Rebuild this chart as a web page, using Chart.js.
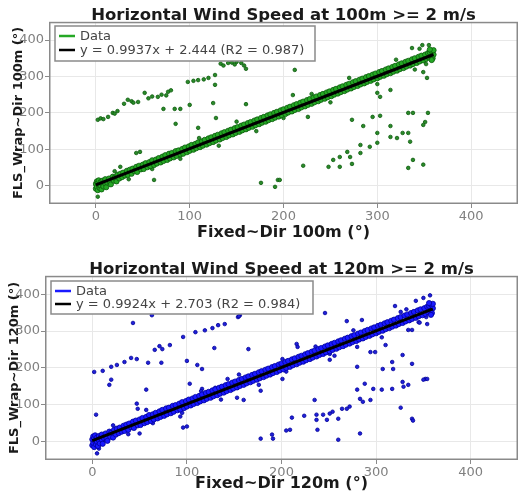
<!DOCTYPE html>
<html>
<head>
<meta charset="utf-8">
<script src="https://cdn.jsdelivr.net/npm/chart.js@4.4.1/dist/chart.umd.min.js"></script>
<style>
  body { margin: 0; background: #fff; }
  #wrap { position: relative; width: 518px; height: 493px; }
  #c100 { position: absolute; left: 0; top: 0; }
  #c120 { position: absolute; left: 0; top: 246px; }
</style>
</head>
<body>
<div id="wrap">
  <canvas id="c100" width="518" height="246"></canvas>
  <canvas id="c120" width="518" height="247"></canvas>
</div>
<script>
// tick labels
var xTicks = [0, 100, 200, 300, 400];
var yTicks = [0, 100, 200, 300, 400];

// 100m: main band of points along the fit
var band100 = [
  [0,-8],[0,5],[1,12],[1,-3],[2,8],[2,-12],[3,2],[3,15],[4,-6],[5,10],[5,0],[6,-10],[7,14],[7,4],[8,-2],[9,11],[10,6],[10,18],[11,-4],[12,9],
  [14,20],[15,10],[16,4],[18,25],[19,14],[20,22],[22,12],[23,30],[25,20],[26,33],[28,24],[29,36],[31,28],[33,41],[34,30],[36,44],[38,33],[39,47],
  [41,40],[43,52],[44,38],[46,55],[48,45],[50,58],[51,46],[53,62],[55,51],[57,65],[58,54],[60,70],[62,57],[64,72],[65,61],[67,76],[69,64],[71,80],
  [72,68],[74,84],[76,71],[78,88],[79,75],[81,90],[83,78],[85,95],[86,82],[88,97],[90,86],[92,101],[93,88],[95,105],[97,92],[99,108],[100,96],
  [102,112],[104,99],[106,115],[107,103],[109,119],[111,106],[113,122],[114,110],[116,126],[118,113],[120,130],[121,117],[123,133],[125,120],
  [127,137],[128,124],[130,140],[132,127],[134,144],[135,131],[137,147],[139,134],[141,151],[142,138],[144,154],[146,141],[148,158],[149,145],
  [151,161],[153,148],[155,165],[156,152],[158,168],[160,155],[162,172],[163,159],[165,175],[167,162],[169,179],[170,166],[172,182],[174,169],
  [176,186],[177,173],[179,189],[181,176],[183,193],[184,180],[186,196],[188,183],[190,200],[191,187],[193,203],[195,190],[197,207],[198,194],
  [200,210],[202,197],[204,214],[205,201],[207,217],[209,204],[211,221],[212,208],[214,224],[216,211],[218,228],[219,215],[221,231],[223,218],
  [225,235],[226,222],[228,238],[230,225],[232,242],[233,229],[235,245],[237,232],[239,249],[240,236],[242,252],[244,239],[246,256],[247,243],
  [249,259],[251,246],[253,263],[254,250],[256,266],[258,253],[260,270],[261,257],[263,273],[265,260],[267,277],[268,264],[270,280],[272,267],
  [274,284],[275,271],[277,287],[279,274],[281,291],[282,278],[284,294],[286,281],[288,298],[289,285],[291,301],[293,288],[295,305],[296,292],
  [298,308],[300,295],[302,312],[303,299],[305,315],[307,302],[309,319],[310,306],[312,322],[314,309],[316,326],[317,313],[319,329],[321,316],
  [323,333],[324,320],[326,336],[328,323],[330,340],[331,327],[333,343],[335,330],[337,347],[338,334],[340,350],[342,337],[344,354],[345,341],
  [347,357],[349,344],[351,360],[352,348],[354,364],[355,352],[356,366],[357,355],[358,370],[359,350],[360,360],[360,372],[358,345],[356,374]
];
// 100m: scattered points away from the band
var out100 = [
  [2,181],[13,189],[23,205],[34,236],[45,230],[52,255],[66,244],[77,258],[98,285],[109,290],[127,304],[141,337],[155,337],[160,321],
  [72,211],[84,211],[90,211],[100,222],[125,227],[160,224],[128,186],[109,159],[85,170],[127,277],[43,90],[47,93],[26,52],[62,16],
  [176,8],[191,-3],[194,16],[2,-30],[5,185],[8,183],[18,200],[20,198],[30,225],[38,232],[40,228],[56,240],[60,245],[70,250],[75,248],
  [104,288],[115,292],[120,296],[133,335],[136,330],[145,338],[148,333],[150,340],[158,330],[80,262],
  [212,318],[348,386],[337,378],[353,296],[349,312],[300,255],[303,244],[314,263],[210,249],[226,189],[273,181],[285,164],[295,189],
  [303,192],[333,200],[338,200],[354,200],[349,167],[351,175],[300,145],[314,164],[314,134],[321,131],[327,145],[333,145],[335,121],
  [282,112],[292,107],[300,118],[282,90],[268,93],[271,79],[260,79],[253,71],[248,52],[260,52],[273,60],[221,55],[333,49],[338,71],
  [349,58],[196,16],
  [20,40],[35,18],[60,46],[90,74],[110,131],[131,110],[150,176],[171,150],[200,186],[230,252],[250,229],[270,296],[300,279],[320,346],
  [340,319],[352,334],[355,386],[345,376]
];
var fit100 = [[0,2.444],[360,360.2]];

// 120m: main band of points along the fit
var band120 = [
  [0,-10],[0,6],[1,14],[1,-4],[2,9],[2,-15],[3,1],[3,17],[4,-8],[5,11],[5,-1],[6,-12],[7,15],[7,3],[8,-5],[9,12],[10,5],[10,19],[11,-6],[12,10],
  [14,22],[15,9],[16,2],[18,27],[19,13],[20,24],[22,11],[23,32],[25,19],[26,35],[28,23],[29,38],[31,27],[33,43],[34,29],[36,46],[38,32],[39,49],
  [41,39],[43,54],[44,37],[46,57],[48,44],[50,60],[51,45],[53,64],[55,50],[57,67],[58,53],[60,72],[62,56],[64,74],[65,60],[67,78],[69,63],[71,82],
  [72,67],[74,86],[76,70],[78,90],[79,74],[81,92],[83,77],[85,97],[86,81],[88,99],[90,85],[92,103],[93,87],[95,107],[97,91],[99,110],[100,95],
  [102,114],[104,98],[106,117],[107,102],[109,121],[111,105],[113,124],[114,109],[116,128],[118,112],[120,132],[121,116],[123,135],[125,119],
  [127,139],[128,123],[130,142],[132,126],[134,146],[135,130],[137,149],[139,133],[141,153],[142,137],[144,156],[146,140],[148,160],[149,144],
  [151,163],[153,147],[155,167],[156,151],[158,170],[160,154],[162,174],[163,158],[165,177],[167,161],[169,181],[170,165],[172,184],[174,168],
  [176,188],[177,172],[179,191],[181,175],[183,195],[184,179],[186,198],[188,182],[190,202],[191,186],[193,205],[195,189],[197,209],[198,193],
  [200,212],[202,196],[204,216],[205,200],[207,219],[209,203],[211,223],[212,207],[214,226],[216,210],[218,230],[219,214],[221,233],[223,217],
  [225,237],[226,221],[228,240],[230,224],[232,244],[233,228],[235,247],[237,231],[239,251],[240,235],[242,254],[244,238],[246,258],[247,242],
  [249,261],[251,245],[253,265],[254,249],[256,268],[258,252],[260,272],[261,256],[263,275],[265,259],[267,279],[268,263],[270,282],[272,266],
  [274,286],[275,270],[277,289],[279,273],[281,293],[282,277],[284,296],[286,280],[288,300],[289,284],[291,303],[293,287],[295,307],[296,291],
  [298,310],[300,294],[302,314],[303,298],[305,317],[307,301],[309,321],[310,305],[312,324],[314,308],[316,328],[317,312],[319,331],[321,315],
  [323,335],[324,319],[326,338],[328,322],[330,342],[331,326],[333,345],[335,329],[337,349],[338,333],[340,352],[342,336],[344,356],[345,340],
  [347,359],[349,343],[351,362],[352,347],[354,366],[355,351],[356,368],[357,354],[358,372],[359,349],[360,362],[360,374],[358,344],[356,376]
];
// 120m: scattered points away from the band
var out120 = [
  [2,189],[11,192],[20,203],[26,208],[34,216],[41,227],[47,224],[66,249],[74,251],[71,259],[82,262],[96,284],[109,297],[119,302],[127,308],
  [133,316],[140,319],[154,338],[156,343],[63,343],[43,322],[20,168],[18,154],[57,141],[73,214],[59,214],[100,219],[111,208],[116,197],
  [129,254],[165,251],[103,157],[116,143],[130,146],[143,170],[153,119],[160,113],[178,138],[4,73],[47,103],[48,89],[57,86],[93,68],
  [96,38],[100,41],[50,22],[13,5],[21,11],[5,-32],[7,-19],[178,8],[190,19],[191,8],[155,340],
  [357,397],[246,349],[269,327],[285,330],[320,368],[332,359],[354,319],[345,324],[334,303],[338,303],[216,265],[217,257],[251,238],
  [280,257],[294,243],[299,243],[310,262],[328,235],[251,222],[201,170],[280,203],[307,197],[318,197],[317,216],[338,211],[352,170],
  [350,168],[354,170],[328,162],[334,154],[329,149],[288,157],[297,143],[306,141],[317,143],[280,141],[283,116],[294,113],[286,108],
  [272,95],[269,89],[264,89],[235,113],[254,81],[251,76],[244,73],[260,62],[237,73],[237,59],[224,70],[211,65],[248,59],[209,32],
  [205,30],[238,32],[283,22],[260,5],[326,92],[338,62],[339,57],[201,224],
  [22,44],[38,20],[64,50],[95,78],[115,137],[136,114],[155,182],[176,154],[205,190],[236,258],[256,233],[276,302],[306,283],[326,352],
  [346,323],[353,338],[350,390],[342,382]
];
var fit120 = [[0,2.703],[360,359.97]];

function pts(arr) {
  return arr.map(function (p) { return { x: p[0], y: p[1] }; });
}

// plot frame all round
var framePlugin = {
  id: 'frame',
  afterDraw: function (chart) {
    var a = chart.chartArea, ctx = chart.ctx;
    ctx.save();
    ctx.strokeStyle = '#8a8a8a';
    ctx.lineWidth = 1.5;
    ctx.strokeRect(a.left + 0.75, a.top + 0.75, a.right - a.left - 1.5, a.bottom - a.top - 1.5);
    ctx.restore();
  }
};

// boxed legend inside the plot, top left
var boxLegendPlugin = {
  id: 'boxLegend',
  afterDraw: function (chart, args, opts) {
    var ctx = chart.ctx;
    ctx.save();
    ctx.fillStyle = '#fff';
    ctx.fillRect(opts.x, opts.y, opts.w, opts.h);
    ctx.strokeStyle = '#8a8a8a';
    ctx.lineWidth = 1.5;
    ctx.strokeRect(opts.x, opts.y, opts.w, opts.h);
    ctx.font = '13px "DejaVu Sans"';
    ctx.textBaseline = 'middle';
    var rows = [
      { label: chart.data.datasets[1].label, color: opts.dataColor },
      { label: chart.data.datasets[0].label, color: '#000' }
    ];
    rows.forEach(function (r, i) {
      var y = opts.y + opts.rowTop + i * opts.rowGap;
      ctx.strokeStyle = r.color;
      ctx.lineWidth = 2.5;
      ctx.beginPath();
      ctx.moveTo(opts.x + 4, y);
      ctx.lineTo(opts.x + 20, y);
      ctx.stroke();
      ctx.fillStyle = '#444';
      ctx.fillText(r.label, opts.x + 25, y + 1);
    });
    ctx.restore();
  }
};

function makeChart(id, band, outl, fit, fitLabel, fill, edge, outFill, title, xTitle, yTitle, lay) {
  var keep = function (s) {
    s.ticks = s.ticks.filter(function (t) { return (s.axis === 'x' ? xTicks : yTicks).indexOf(t.value) >= 0; });
  };
  return new Chart(document.getElementById(id), {
    type: 'scatter',
    data: {
      datasets: [
        {
          type: 'line',
          label: fitLabel,
          data: pts(fit),
          borderColor: '#000',
          borderWidth: 3,
          pointRadius: 0,
          order: 0
        },
        {
          label: 'Data',
          data: pts(band),
          backgroundColor: fill,
          borderColor: edge,
          borderWidth: 0.8,
          pointRadius: 2.6,
          order: 1
        },
        {
          label: 'Data',
          data: pts(outl),
          backgroundColor: outFill,
          borderColor: edge,
          borderWidth: 0.8,
          pointRadius: 1.8,
          order: 2
        }
      ]
    },
    plugins: [framePlugin, boxLegendPlugin],
    options: {
      responsive: false,
      animation: false,
      layout: { padding: 0, autoPadding: false },
      plugins: {
        legend: { display: false },
        tooltip: { enabled: false },
        title: {
          display: true,
          fullSize: false,
          text: title,
          color: '#1a1a1a',
          font: { family: 'DejaVu Sans', size: 16.5, weight: 'bold' },
          padding: lay.titlePad
        },
        boxLegend: lay.legend
      },
      scales: {
        x: {
          type: 'linear',
          min: -50, max: 450,
          afterBuildTicks: keep,
          afterFit: function (s) { s.height = lay.xHeight; s.paddingLeft = 0; s.paddingRight = 0; },
          grid: { color: '#e8e8e8', tickColor: '#8a8a8a', tickLength: 4 },
          border: { display: false },
          ticks: { color: '#808080', font: { family: 'DejaVu Sans', size: 13 }, padding: 1 },
          title: {
            display: true, text: xTitle, color: '#1a1a1a',
            font: { family: 'DejaVu Sans', size: 16, weight: 'bold' },
            padding: { top: 0, bottom: lay.xTitlePad }
          }
        },
        y: {
          type: 'linear',
          min: -50, max: 450,
          afterBuildTicks: keep,
          afterFit: function (s) { s.width = lay.yWidth; s.paddingTop = 0; s.paddingBottom = 0; },
          grid: { color: '#e8e8e8', tickColor: '#8a8a8a', tickLength: 4 },
          border: { display: false },
          ticks: { color: '#808080', font: { family: 'DejaVu Sans', size: 13 }, padding: 1 },
          title: {
            display: true, text: yTitle, color: '#1a1a1a',
            font: { family: 'DejaVu Sans', size: 13, weight: 'bold' },
            padding: { top: lay.yTitlePad, bottom: 0 }
          }
        }
      }
    }
  });
}

makeChart('c100', band100, out100, fit100, 'y = 0.9937x + 2.444 (R2 = 0.987)',
  '#25a825', '#0b5a0b', '#2a8a2a',
  'Horizontal Wind Speed at 100m >= 2 m/s', 'Fixed~Dir 100m (°)', 'FLS_Wrap~Dir 100m (°)',
  {
    titlePad: { top: 6, bottom: -4 }, xHeight: 42, yWidth: 49, xTitlePad: 4, yTitlePad: 11,
    legend: { x: 55, y: 26, w: 260, h: 35, rowTop: 10, rowGap: 14, dataColor: '#25a825' }
  });

makeChart('c120', band120, out120, fit120, 'y = 0.9924x + 2.703 (R2 = 0.984)',
  '#1a1aff', '#00009a', '#2020d8',
  'Horizontal Wind Speed at 120m >= 2 m/s', 'Fixed~Dir 120m (°)', 'FLS_Wrap~Dir 120m (°)',
  {
    titlePad: { top: 14, bottom: -4 }, xHeight: 33, yWidth: 45, xTitlePad: 0, yTitlePad: 7,
    legend: { x: 51, y: 35, w: 262, h: 33, rowTop: 10, rowGap: 13, dataColor: '#1a1aff' }
  });
</script>
</body>
</html>
